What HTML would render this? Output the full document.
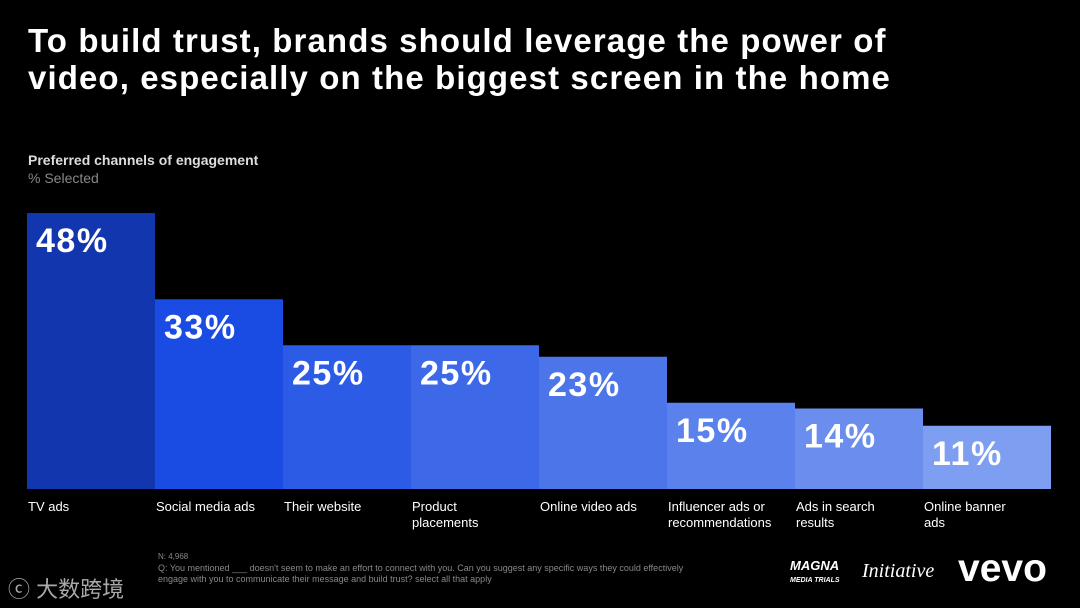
<!DOCTYPE html>
<html><head><meta charset="utf-8"><style>
body{margin:0;background:#000;width:1080px;height:608px;overflow:hidden;font-family:"Liberation Sans",sans-serif;color:#fff;position:relative}
.t{position:absolute;left:28px;top:22px;font-size:33px;line-height:37px;font-weight:bold;letter-spacing:1.1px}
.sub{position:absolute;left:28px;top:152px;font-size:14px;font-weight:bold;color:#ddd}
.sub2{position:absolute;left:28px;top:170px;font-size:14px;color:#888}
.foot{position:absolute;left:158px;font-size:9px;color:#888}
</style></head><body>
<div class="t">To build trust, brands should leverage the power of<br>video, especially on the biggest screen in the home</div>
<div class="sub">Preferred channels of engagement</div>
<div class="sub2">% Selected</div>
<svg id="c" width="1080" height="608" style="position:absolute;left:0;top:0"></svg>
<div class="foot" style="top:552px;font-size:8px">N: 4,968</div>
<div class="foot" style="top:563px;line-height:11px;width:550px">Q: You mentioned ___ doesn't seem to make an effort to connect with you. Can you suggest any specific ways they could effectively engage with you to communicate their message and build trust? select all that apply</div>
<div style="position:absolute;left:8px;top:572px;font-size:22px;color:#aaa;font-family:'Liberation Sans','Noto Sans CJK SC',sans-serif">ⓒ 大数跨境</div>
<div style="position:absolute;left:790px;top:560px;font-size:13px;font-weight:bold;line-height:12px;font-style:italic">MAGNA<br><span style="font-size:7px">MEDIA TRIALS</span></div>
<div style="position:absolute;left:862px;top:560px;font-size:20px;font-family:'Liberation Serif',serif;font-style:italic">Initiative</div>
<div style="position:absolute;left:958px;top:547px;font-size:39px;font-weight:bold;letter-spacing:0px">vevo</div>
<script>
const categories=["TV ads","Social media ads","Their website","Product placements","Online video ads","Influencer ads or recommendations","Ads in search results","Online banner ads"];
const labelLines=[["TV ads"],["Social media ads"],["Their website"],["Product","placements"],["Online video ads"],["Influencer ads or","recommendations"],["Ads in search","results"],["Online banner","ads"]];
const values=[48,33,25,25,23,15,14,11];
const colors=["#1236ad","#1a4be3","#2c5be6","#3d69e8","#4c75ea","#5b82ec","#6b8eee","#7e9ef1"];
const svg=document.getElementById('c'),NS="http://www.w3.org/2000/svg";
const base=489,k=5.75,x0=27,bw=128;
const y=v=>base-v*k, x=i=>x0+i*bw;
values.forEach((v,i)=>{
 const r=document.createElementNS(NS,'rect');
 r.setAttribute('x',x(i));r.setAttribute('y',y(v));r.setAttribute('width',bw);r.setAttribute('height',v*k);r.setAttribute('fill',colors[i]);
 
 
 svg.appendChild(r);
 const t=document.createElementNS(NS,'text');
 t.setAttribute('x',x(i)+9);t.setAttribute('y',y(v)+39);t.setAttribute('fill','#fff');t.setAttribute('font-size','34');t.setAttribute('font-weight','bold');t.setAttribute('letter-spacing','1.5');t.setAttribute('font-family','Liberation Sans, sans-serif');
 t.textContent=v+'%';
 
 
 svg.appendChild(t);
 labelLines[i].forEach((ln,j)=>{
  const c=document.createElementNS(NS,'text');
  c.setAttribute('x',x(i)+1);c.setAttribute('y',511+j*16);c.setAttribute('fill','#fff');c.setAttribute('font-size','13');c.setAttribute('font-family','Liberation Sans, sans-serif');
  c.textContent=ln;
  
  
  svg.appendChild(c);
 });
});
</script>
</body></html>
